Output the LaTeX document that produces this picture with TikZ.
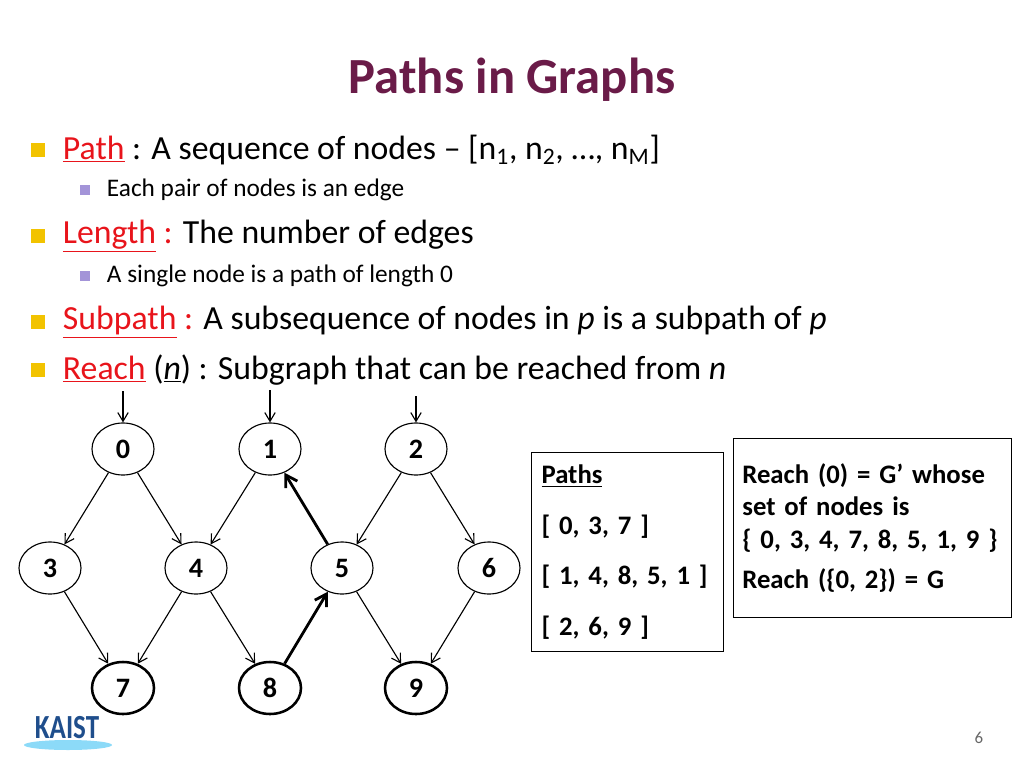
\documentclass[tikz,border=0pt]{standalone}
\usepackage{fontspec}
\setmainfont{Carlito}
\usetikzlibrary{arrows.meta}
\usetikzlibrary{shapes.geometric}
\definecolor{titlered}{HTML}{6A1B48}
\definecolor{keyred}{HTML}{E8141B}
\definecolor{bulletyel}{HTML}{F2C300}
\definecolor{bulletpur}{HTML}{A394D8}
\definecolor{kaistblue}{HTML}{1F4E8C}
\tikzset{
  vert/.style={ellipse, draw, thick, minimum width=1.55cm, minimum height=1.3cm, inner sep=0pt, font=\fontsize{20}{22}\selectfont\bfseries},
  sinkvert/.style={vert, line width=1.8pt},
  edge/.style={-{Straight Barb[length=2.2mm,width=2.6mm]}, thick},
  pathedge/.style={-{Straight Barb[length=2.8mm,width=3.4mm]}, line width=2pt},
  bulA/.style={fill=bulletyel, minimum size=0.35cm, inner sep=0pt},
  bulB/.style={fill=bulletpur, minimum size=0.27cm, inner sep=0pt},
  infobox/.style={draw, thick, anchor=north west, align=left, font=\fontsize{19}{23}\selectfont\bfseries}
}
\newcommand{\key}[1]{\textcolor{keyred}{\underline{#1}}}
\begin{document}
\begin{tikzpicture}[x=0.025cm, y=-0.025cm]
\useasboundingbox (0,0) rectangle (1024,768);
% title
\node[font=\fontsize{36}{40}\selectfont\bfseries, text=titlered] (title) at (512,80) {Paths in Graphs};
% bullets
\node[bulA] (b1) at (38,150) {};
\node[anchor=west, font=\fontsize{24}{27}\selectfont] (t1) at (58,150) {\key{Path} : A sequence of nodes -- [n\textsubscript{1}, n\textsubscript{2}, \dots, n\textsubscript{M}]};
\node[bulB] (b2) at (85,190) {};
\node[anchor=west, font=\fontsize{18}{21}\selectfont] (t2) at (102,190) {Each pair of nodes is an edge};
\node[bulA] (b3) at (38,236) {};
\node[anchor=west, font=\fontsize{24}{27}\selectfont] (t3) at (58,236) {\key{Length} \textcolor{keyred}{:} The number of edges};
\node[bulB] (b4) at (85,276) {};
\node[anchor=west, font=\fontsize{18}{21}\selectfont] (t4) at (102,276) {A single node is a path of length 0};
\node[bulA] (b5) at (38,322) {};
\node[anchor=west, font=\fontsize{24}{27}\selectfont] (t5) at (58,322) {\key{Subpath} \textcolor{keyred}{:} A subsequence of nodes in \textit{p} is a subpath of \textit{p}};
\node[bulA] (b6) at (38,370) {};
\node[anchor=west, font=\fontsize{24}{27}\selectfont] (t6) at (58,370) {\key{Reach} (\underline{\textit{n}}) : Subgraph that can be reached from \textit{n}};
% graph vertices
\node[vert] (v0) at (123,449) {0};
\node[vert] (v1) at (270,449) {1};
\node[vert] (v2) at (416,449) {2};
\node[vert] (v3) at (50,568) {3};
\node[vert] (v4) at (196,568) {4};
\node[vert] (v5) at (342,568) {5};
\node[vert] (v6) at (489,568) {6};
\node[sinkvert] (v7) at (123,688) {7};
\node[sinkvert] (v8) at (270,688) {8};
\node[sinkvert] (v9) at (416,688) {9};
% entry arrows
\coordinate (s0) at (123,391);
\coordinate (s1) at (270,390);
\coordinate (s2) at (416,396);
\draw[edge] (s0) -- (v0);
\draw[edge] (s1) -- (v1);
\draw[edge] (s2) -- (v2);
% edges
\draw[edge] (v0) -- (v3);
\draw[edge] (v0) -- (v4);
\draw[edge] (v1) -- (v4);
\draw[edge] (v2) -- (v5);
\draw[edge] (v2) -- (v6);
\draw[edge] (v3) -- (v7);
\draw[edge] (v4) -- (v7);
\draw[edge] (v4) -- (v8);
\draw[edge] (v5) -- (v9);
\draw[edge] (v6) -- (v9);
\draw[pathedge] (v8) -- (v5);
\draw[pathedge] (v5) -- (v1);
% boxes
\node[infobox, minimum width=4.775cm, minimum height=4.975cm, text width=4.3cm, inner sep=0.25cm, anchor=north west] (paths) at (531,452)
  {\underline{Paths}\\[0.45cm][ 0, 3, 7 ]\\[0.45cm][ 1, 4, 8, 5, 1 ]\\[0.45cm][ 2, 6, 9 ]};
\node[infobox, minimum width=6.9cm, minimum height=4.475cm, text width=6.5cm, inner sep=0.22cm, anchor=north west] (reach) at (733,438)
  {Reach (0) = G\textquoteright{} whose\\set of nodes is\\\{ 0, 3, 4, 7, 8, 5, 1, 9 \}\\[0.2cm]Reach (\{0, 2\}) = G\\[0.6cm]};
% logo and page number
\fill[cyan!45!white] (68,745) ellipse (44 and 5);
\node[font=\fontsize{24}{26}\selectfont\bfseries, text=kaistblue, xscale=0.8] (logo) at (67,728) {KAIST};
\node[font=\fontsize{12}{14}\selectfont, text=gray!80!black] (pnum) at (979,738) {6};
\end{tikzpicture}
\end{document}
